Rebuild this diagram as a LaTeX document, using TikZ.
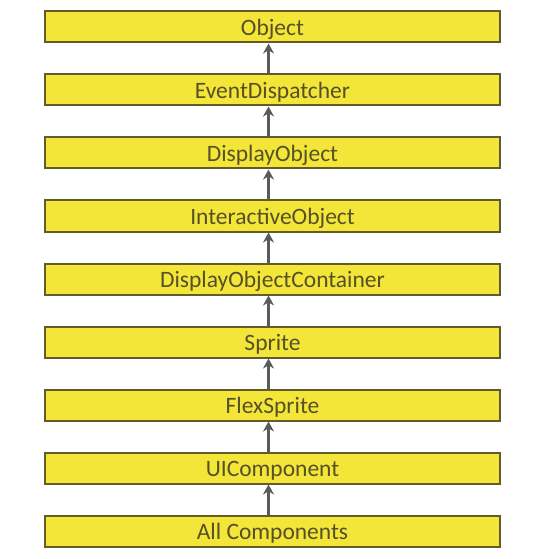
\documentclass[tikz,border=0pt]{standalone}
\usepackage{fontspec}
\setmainfont{Carlito}
\usetikzlibrary{arrows.meta}
\definecolor{boxfill}{HTML}{F4E638}
\definecolor{boxline}{HTML}{625C2C}
\definecolor{boxtext}{HTML}{555028}
\definecolor{arrowc}{HTML}{5A5A5A}
\begin{document}
\begin{tikzpicture}[x=1pt,y=-1pt,
  cls/.style={draw=boxline,line width=2pt,fill=boxfill,minimum width=455pt,minimum height=31pt,
    inner sep=0pt,text height=17pt,text depth=0pt,text=boxtext,font=\fontsize{23.5}{23.5}\selectfont},
  inh/.style={draw=arrowc,line width=3pt,-{Stealth[length=10pt,width=11pt]}}]
\useasboundingbox (0,0) rectangle (560,559);
\foreach \n/\t [count=\i from 0] in {o/Object,ed/EventDispatcher,do/DisplayObject,io/InteractiveObject,doc/DisplayObjectContainer,sp/Sprite,fs/FlexSprite,ui/UIComponent,ac/All Components}{
  \node[cls] (\n) at (272.5,{27+63*\i}) {\t};
}
\foreach \a/\b in {ed/o,do/ed,io/do,doc/io,sp/doc,fs/sp,ui/fs,ac/ui}{
  \draw[inh] ([xshift=-4pt]\a.north) -- ([xshift=-4pt]\b.south);
}
\end{tikzpicture}
\end{document}
